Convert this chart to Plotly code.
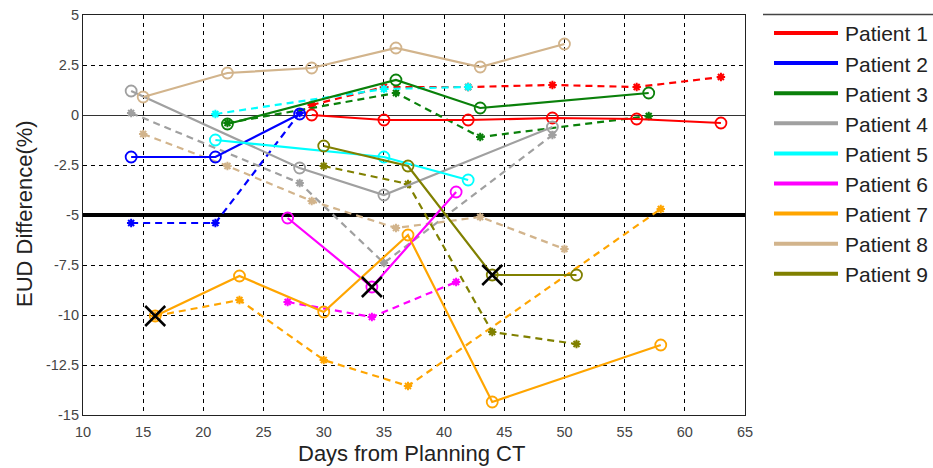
import plotly.graph_objects as go

# ---------------- data ----------------
patients = ["Patient 1", "Patient 2", "Patient 3", "Patient 4", "Patient 5",
            "Patient 6", "Patient 7", "Patient 8", "Patient 9"]
colors = ["#FF0000", "#0000FF", "#0A800A", "#A0A0A0", "#00FFFF",
          "#FF00FF", "#FFA500", "#D2B48C", "#808000"]

p1_days = [29, 35, 42, 49, 56, 63]
p1_solid = [0.0, -0.25, -0.25, -0.15, -0.2, -0.4]
p1_dash_days = [29, 35, 42, 49, 56, 63]
p1_dash = [0.5, 1.4, 1.4, 1.5, 1.4, 1.9]

p2_days = [14, 21, 28]
p2_solid = [-2.1, -2.1, 0.05]
p2_dash_days = [14, 21, 28]
p2_dash = [-5.4, -5.4, 0.1]

p3_days = [22, 36, 43, 57]
p3_solid = [-0.45, 1.75, 0.35, 1.1]
p3_dash_days = [22, 36, 43, 57]
p3_dash = [-0.4, 1.1, -1.1, -0.05]

p4_days = [14, 28, 35, 49]
p4_solid = [1.2, -2.65, -4.0, -0.6]
p4_dash_days = [14, 28, 35, 49]
p4_dash = [0.1, -3.4, -7.4, -1.0]

p5_days = [21, 35, 42]
p5_solid = [-1.25, -2.1, -3.25]
p5_dash_days = [21, 35, 42]
p5_dash = [0.05, 1.3, 1.4]

p6_days = [27, 34, 41]
p6_solid = [-5.15, -8.6, -3.85]
p6_dash_days = [27, 34, 41]
p6_dash = [-9.35, -10.1, -8.35]

p7_days = [16, 23, 30, 37, 44, 58]
p7_solid = [-10.05, -8.05, -9.85, -6.0, -14.35, -11.5]
p7_dash_days = [16, 23, 30, 37, 58]
p7_dash = [-10.05, -9.25, -12.25, -13.55, -4.7]

p8_days = [15, 22, 29, 36, 43, 50]
p8_solid = [0.9, 2.1, 2.35, 3.35, 2.4, 3.55]
p8_dash_days = [15, 22, 29, 36, 43, 50]
p8_dash = [-0.95, -2.55, -4.3, -5.65, -5.1, -6.7]

p9_days = [30, 37, 44, 51]
p9_solid = [-1.55, -2.55, -8.0, -8.0]
p9_dash_days = [30, 37, 44, 51]
p9_dash = [-2.55, -3.45, -10.85, -11.45]

mark_days = [16, 34, 44]
mark_vals = [-10.05, -8.6, -8.0]

threshold = -5

x_ticks = [10, 15, 20, 25, 30, 35, 40, 45, 50, 55, 60, 65]
y_ticks = [5, 2.5, 0, -2.5, -5, -7.5, -10, -12.5, -15]
y_tick_text = ["5", "2.5", "0", "-2.5", "-5", "-7.5", "-10", "-12.5", "-15"]

solid_series = [(p1_days, p1_solid), (p2_days, p2_solid), (p3_days, p3_solid),
                (p4_days, p4_solid), (p5_days, p5_solid), (p6_days, p6_solid),
                (p7_days, p7_solid), (p8_days, p8_solid), (p9_days, p9_solid)]
dash_series = [(p1_dash_days, p1_dash), (p2_dash_days, p2_dash), (p3_dash_days, p3_dash),
               (p4_dash_days, p4_dash), (p5_dash_days, p5_dash), (p6_dash_days, p6_dash),
               (p7_dash_days, p7_dash), (p8_dash_days, p8_dash), (p9_dash_days, p9_dash)]

# ---------------- figure ----------------
fig = go.Figure()

fig.add_trace(go.Scatter(x=[x_ticks[0], x_ticks[-1]], y=[threshold, threshold],
                         mode="lines", line=dict(color="black", width=4),
                         showlegend=False, hoverinfo="skip"))

for name, col, (dx, dy) in zip(patients, colors, dash_series):
    fig.add_trace(go.Scatter(x=dx, y=dy, mode="lines+markers", name=name + " (dashed)",
                             line=dict(color=col, width=2.2, dash="7px,5px"),
                             marker=dict(symbol="asterisk-open", size=7, color=col,
                                         line=dict(color=col, width=2)),
                             showlegend=False))

for name, col, (sx, sy) in zip(patients, colors, solid_series):
    fig.add_trace(go.Scatter(x=sx, y=sy, mode="lines+markers", name=name,
                             line=dict(color=col, width=2.2),
                             marker=dict(symbol="circle-open", size=11, color=col,
                                         line=dict(color=col, width=1.8)),
                             showlegend=False))

fig.add_trace(go.Scatter(x=mark_days, y=mark_vals, mode="markers",
                         marker=dict(symbol="x-thin-open", size=20, color="black",
                                     line=dict(color="black", width=2.5)),
                         showlegend=False))

W, H = 933, 468
pl, pr, pt, pb = 83, 745, 15, 415   # plot area in page pixels


def px2paper_x(px):
    return (px - pl) / (pr - pl)


def px2paper_y(py):
    return (pb - py) / (pb - pt)


FONT = "Liberation Sans, Arial"
leg_top = 33
leg_step = 30.1
for i, (name, col) in enumerate(zip(patients, colors)):
    yy = leg_top + i * leg_step
    fig.add_shape(type="line", xref="paper", yref="paper",
                  x0=px2paper_x(774), x1=px2paper_x(838),
                  y0=px2paper_y(yy), y1=px2paper_y(yy),
                  line=dict(color=col, width=4))
    fig.add_annotation(xref="paper", yref="paper", x=px2paper_x(843), y=px2paper_y(yy + 1),
                       text=name, showarrow=False, xanchor="left", yanchor="middle",
                       font=dict(family=FONT, size=21, color="#222"))

fig.add_shape(type="line", xref="paper", yref="paper",
              x0=px2paper_x(763), x1=px2paper_x(940),
              y0=px2paper_y(14.5), y1=px2paper_y(14.5),
              line=dict(color="#444", width=1.5))

# axis titles as annotations for exact placement
fig.add_annotation(xref="paper", yref="paper", x=px2paper_x(411), y=px2paper_y(453),
                   text="Days from Planning CT", showarrow=False,
                   xanchor="center", yanchor="middle",
                   font=dict(family=FONT, size=22, color="#222"))
fig.add_annotation(xref="paper", yref="paper", x=px2paper_x(24), y=px2paper_y(214),
                   text="EUD Difference(%)", showarrow=False, textangle=-90,
                   xanchor="center", yanchor="middle",
                   font=dict(family=FONT, size=22, color="#222"))

fig.update_layout(
    width=W, height=H,
    margin=dict(l=pl, r=W - pr, t=pt, b=H - pb, autoexpand=False),
    paper_bgcolor="white", plot_bgcolor="white",
    font=dict(family=FONT, color="#333"),
    showlegend=False,
)
fig.update_xaxes(range=[10, 65], tickvals=x_ticks, ticks="",
                 tickfont=dict(family=FONT, size=14.5, color="#444"),
                 ticklabelstandoff=3, ticklabeloverflow="allow",
                 showgrid=True, gridcolor="black", gridwidth=1, griddash="4px,4px",
                 showline=True, linecolor="#222", linewidth=1.2, mirror=True,
                 zeroline=False, automargin=False)
fig.update_yaxes(range=[-15, 5], tickvals=y_ticks, ticktext=y_tick_text, ticks="",
                 tickfont=dict(family=FONT, size=14.5, color="#444"),
                 ticklabeloverflow="allow",
                 showgrid=True, gridcolor="black", gridwidth=1, griddash="4px,4px",
                 showline=True, linecolor="#222", linewidth=1.2, mirror=True,
                 zeroline=True, zerolinecolor="#333", zerolinewidth=1.2, automargin=False)

fig.write_html("out.html",
               config={"displayModeBar": False},
               post_script="document.body.style.margin='0';document.body.style.overflow='hidden';")
